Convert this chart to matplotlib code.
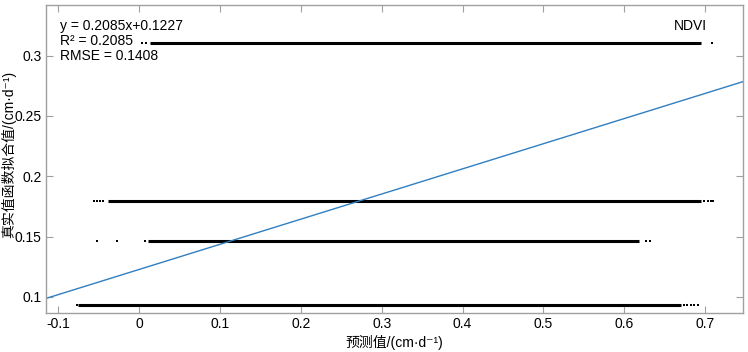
import matplotlib
matplotlib.use('Agg')
import matplotlib.pyplot as plt

plt.rcParams['font.family'] = ['Liberation Sans', 'Noto Sans CJK SC', 'DejaVu Sans']

# fitted values of each row (y) and the extents of the dense part
rowY = [0.3105, 0.1795, 0.1465, 0.0935]
denseStart = [0.0136, -0.038, 0.011, -0.076]
denseEnd = [0.695, 0.695, 0.618, 0.670]
# isolated points at the edges of each row
looseX = [[0.0037, 0.0086, 0.709],
          [-0.0556, -0.052, -0.048, -0.044, 0.699, 0.703, 0.707, 0.710],
          [-0.052, -0.027, 0.0074, 0.627, 0.632],
          [-0.0765, 0.674, 0.678, 0.682, 0.686, 0.691]]

slope = 0.2085
intercept = 0.1227
r2 = 0.2085
rmse = 0.1408

xmin, xmax = -0.115, 0.747

fig = plt.figure(figsize=(7.48, 3.52), dpi=100)
ax = fig.add_axes([0.0615, 0.111, 0.932, 0.875])

for i in range(len(rowY)):
    ax.plot([denseStart[i], denseEnd[i]], [rowY[i], rowY[i]], color='black', linewidth=2.2, solid_capstyle='butt')
    ax.plot(looseX[i], [rowY[i]] * len(looseX[i]), 's', color='black', markersize=1.6, markeredgewidth=0)

ax.plot([xmin, xmax], [slope * xmin + intercept, slope * xmax + intercept], color='#2f7fc1', linewidth=1.0)

ax.set_xlim(xmin, xmax)
ax.set_ylim(0.0867, 0.342)
ax.set_xticks([-0.1, 0, 0.1, 0.2, 0.3, 0.4, 0.5, 0.6, 0.7])
ax.set_xticklabels(['-0.1', '0', '0.1', '0.2', '0.3', '0.4', '0.5', '0.6', '0.7'])
ax.set_yticks([0.1, 0.15, 0.2, 0.25, 0.3])
ax.set_yticklabels(['0.1', '0.15', '0.2', '0.25', '0.3'])
ax.tick_params(direction='in', top=True, right=True, length=5, width=0.8, color='#a0a0a0', labelsize=10, pad=3)
for s in ax.spines.values():
    s.set_color('#a0a0a0')
    s.set_linewidth(1.0)

ax.text(0.02, 0.932, 'y = ' + str(slope) + 'x+' + str(intercept), transform=ax.transAxes, fontsize=10, va='center')
ax.text(0.02, 0.883, 'R² = ' + str(r2), transform=ax.transAxes, fontsize=10, va='center')
ax.text(0.02, 0.834, 'RMSE = ' + str(rmse), transform=ax.transAxes, fontsize=10, va='center')
ax.text(0.924, 0.932, 'NDVI', transform=ax.transAxes, fontsize=10, va='center', ha='center')

ax.set_xlabel('预测值/(cm·d⁻¹)', fontsize=10)
ax.set_ylabel('真实值函数拟合值/(cm·d⁻¹)', fontsize=10)
ax.xaxis.set_label_coords(0.5, -0.095)
ax.yaxis.set_label_coords(-0.053, 0.513)
ax.xaxis.label.set_va('center')
ax.yaxis.label.set_va('center')

fig.savefig('out.png', dpi=100)
